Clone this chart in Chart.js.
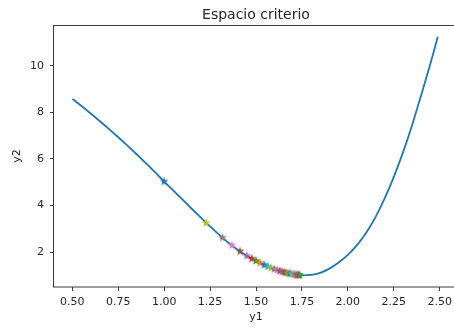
<!DOCTYPE html>
<html><head><meta charset="utf-8">
<script src="https://cdn.jsdelivr.net/npm/chart.js@4"></script>
<style>
html,body{margin:0;padding:0;background:#fff;overflow:hidden}
#wrap{width:454px;height:329px;overflow:hidden;position:relative;background:#fff}
#c{position:absolute;left:0;top:0}
</style></head><body>
<div id="wrap"><canvas id="c" width="512" height="329"></canvas></div>
<script>
// ---- data ----
const curveX = [0.50,0.55,0.60,0.65,0.70,0.75,0.80,0.85,0.90,0.95,1.00,1.05,1.10,1.15,1.20,1.25,1.30,1.35,1.40,1.45,1.50,1.55,1.60,1.65,1.70,1.75,1.80,1.85,1.90,1.95,2.00,2.05,2.10,2.15,2.20,2.25,2.30,2.35,2.40,2.45,2.49];
const curveY = [8.58,8.27,7.95,7.62,7.28,6.93,6.57,6.20,5.82,5.43,5.03,4.64,4.25,3.86,3.48,3.10,2.74,2.40,2.10,1.84,1.62,1.43,1.27,1.14,1.05,1.00,1.02,1.11,1.29,1.55,1.88,2.30,2.83,3.49,4.29,5.22,6.27,7.45,8.75,10.10,11.25];
const starX = [1.000,1.228,1.317,1.368,1.413,1.449,1.477,1.500,1.522,1.545,1.565,1.583,1.600,1.615,1.629,1.642,1.654,1.665,1.675,1.684,1.693,1.701,1.709,1.716,1.722,1.728,1.733,1.738];
const starY = [5.03,3.25,2.62,2.29,2.03,1.84,1.72,1.62,1.54,1.45,1.38,1.32,1.27,1.23,1.19,1.16,1.13,1.11,1.09,1.08,1.06,1.05,1.04,1.03,1.02,1.02,1.01,1.01];
const starColors = ['#1f77b4','#bcbd22','#7f7f7f','#e377c2','#8c564b','#9467bd','#d62728','#2ca02c','#ff7f0e','#1f77b4','#17becf','#bcbd22','#7f7f7f','#e377c2','#8c564b','#9467bd','#d62728','#2ca02c','#ff7f0e','#1f77b4','#17becf','#bcbd22','#7f7f7f','#e377c2','#8c564b','#9467bd','#d62728','#2ca02c'];
const xTicks = [0.50,0.75,1.00,1.25,1.50,1.75,2.00,2.25,2.50];
const yTicks = [2,4,6,8,10];
const titleText = 'Espacio criterio';
const xLabel = 'y1';
const yLabel = 'y2';

// ---- styling helpers ----
function starImg(color){
  const c = document.createElement('canvas');
  c.width = 10; c.height = 10;
  const g = c.getContext('2d');
  g.beginPath();
  for (let i = 0; i < 10; i++) {
    const r = (i % 2) ? 1.9 : 4.7;
    const a = -Math.PI/2 + i*Math.PI/5;
    const px = 5 + r*Math.cos(a), py = 5 + r*Math.sin(a);
    if (i === 0) g.moveTo(px, py); else g.lineTo(px, py);
  }
  g.closePath();
  g.fillStyle = color;
  g.fill();
  return c;
}
const FONT = 'DejaVu Sans';
const TXT = '#262626';
const AX = '#3a3a3a';

const frame = {
  id: 'frame',
  afterDraw(chart){
    const {left, top, right, bottom} = chart.chartArea;
    const g = chart.ctx;
    g.save();
    g.strokeStyle = AX; g.lineWidth = 1;
    g.strokeRect(Math.round(left)-0.5, Math.round(top)+0.5, Math.round(right-left), Math.round(bottom-top)-0.5);
    g.restore();
  }
};

new Chart(document.getElementById('c'), {
  type: 'scatter',
  data: {
    datasets: [
      {
        data: starX.map((x,i)=>({x:x, y:starY[i]})),
        pointStyle: starColors.map(starImg),
        pointRadius: 5,
        showLine: false,
        order: 0
      },
      {
        data: curveX.map((x,i)=>({x:x, y:curveY[i]})),
        showLine: true,
        borderColor: '#1f77b4',
        borderWidth: 1.8,
        pointRadius: 0,
        cubicInterpolationMode: 'monotone',
        order: 1
      }
    ]
  },
  options: {
    responsive: false,
    animation: false,
    events: [],
    layout: { padding: 0 },
    plugins: {
      legend: { display: false },
      tooltip: { enabled: false },
      title: {
        display: true, text: titleText, color: TXT,
        font: { family: FONT, size: 14, weight: 'normal' },
        padding: { top: 7, bottom: 1 }
      }
    },
    scales: {
      x: {
        type: 'linear', min: 0.4, max: 2.6,
        afterBuildTicks: s => { s.ticks = xTicks.map(v=>({value:v})); },
        afterFit: s => { s.height = 42; },
        border: { display: false },
        grid: { display: true, drawOnChartArea: false, drawTicks: true, tickLength: 4, color: AX },
        ticks: { color: TXT, padding: 5, maxRotation: 0, font: { family: FONT, size: 11 },
                 callback: v => v.toFixed(2) },
        title: { display: true, text: xLabel, color: TXT, font: { family: FONT, size: 11 }, padding: { top: 0, bottom: 5 } }
      },
      y: {
        type: 'linear', min: 0.5, max: 11.76,
        afterBuildTicks: s => { s.ticks = yTicks.map(v=>({value:v})); },
        afterFit: s => { s.width = 54; },
        border: { display: false },
        grid: { display: true, drawOnChartArea: false, drawTicks: true, tickLength: 4, color: AX },
        ticks: { color: TXT, padding: 6, font: { family: FONT, size: 11 }, callback: v => String(v) },
        title: { display: true, text: yLabel, color: TXT, font: { family: FONT, size: 11 }, padding: { top: 11, bottom: 0 } }
      },
      spacer: {
        type: 'linear', position: 'right', display: true,
        afterFit: s => { s.width = 54; },
        border: { display: false },
        grid: { display: false },
        ticks: { display: false }
      }
    }
  },
  plugins: [frame]
});
</script>
</body></html>
